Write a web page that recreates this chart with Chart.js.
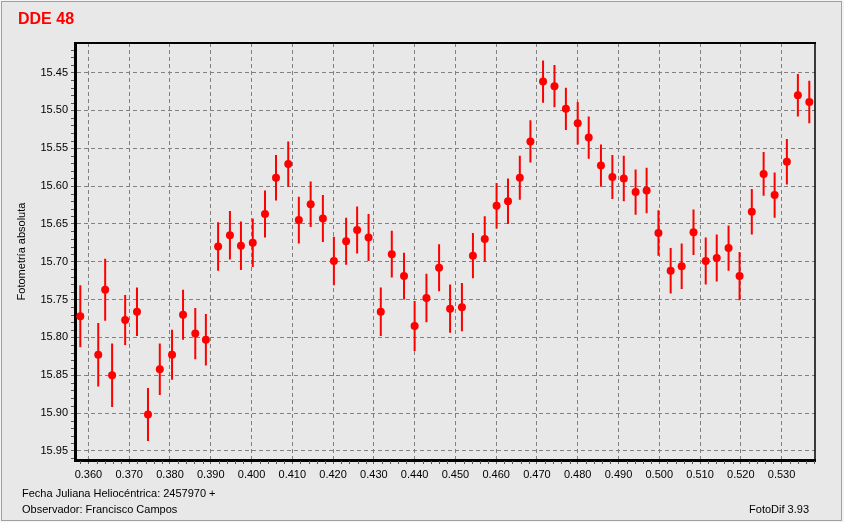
<!DOCTYPE html>
<html>
<head>
<meta charset="utf-8">
<script src="https://cdn.jsdelivr.net/npm/chart.js@4/dist/chart.umd.min.js"></script>
<style>
  html, body { margin: 0; padding: 0; background: #f4f4f4; }
  #frame { position: absolute; left: 1px; top: 1px; width: 839px; height: 518px; border: 1px solid #a0a0a0; background: #e8e8e8; }
  #c { position: absolute; left: 0; top: 0; }
  .txt { position: absolute; font-family: "Liberation Sans", Arial, sans-serif; white-space: nowrap; color: #000; }
  #title { left: 18px; top: 10px; font-size: 16px; line-height: 18px; font-weight: bold; color: #ff0000; }
  #f1 { left: 22px; top: 487px; font-size: 11px; line-height: 13px; }
  #f2 { left: 22px; top: 503px; font-size: 11px; line-height: 13px; }
  #f3 { right: 35px; top: 503px; font-size: 11px; line-height: 13px; }
</style>
</head>
<body>
<div id="frame"></div>
<canvas id="c" width="844" height="522"></canvas>
<div class="txt" id="title">DDE 48</div>
<div class="txt" id="f1">Fecha Juliana Heliocéntrica: 2457970 +</div>
<div class="txt" id="f2">Observador: Francisco Campos</div>
<div class="txt" id="f3">FotoDif 3.93</div>
<script>
// ---- data ----
const jd = [0.3580,0.3624,0.3641,0.3658,0.3690,0.3719,0.3746,0.3775,0.3805,0.3832,
            0.3862,0.3888,0.3918,0.3947,0.3974,0.4003,0.4033,0.4060,0.4090,0.4116,
            0.4145,0.4175,0.4202,0.4232,0.4259,0.4287,0.4317,0.4344,0.4374,0.4400,
            0.4429,0.4460,0.4487,0.4516,0.4543,0.4572,0.4601,0.4629,0.4658,0.4684,
            0.4715,0.4743,0.4771,0.4800,0.4827,0.4857,0.4885,0.4913,0.4942,0.4969,
            0.4998,0.5028,0.5055,0.5084,0.5114,0.5141,0.5170,0.5197,0.5227,0.5256,
            0.5283,0.5313,0.5340,0.5368];
const mag = [15.772,15.823,15.737,15.850,15.777,15.766,15.902,15.842,15.823,15.770,
             15.795,15.803,15.680,15.665,15.679,15.675,15.637,15.589,15.571,15.645,
             15.624,15.643,15.699,15.673,15.658,15.668,15.766,15.690,15.719,15.785,
             15.748,15.708,15.762,15.760,15.692,15.670,15.626,15.620,15.589,15.541,
             15.462,15.468,15.498,15.517,15.536,15.573,15.588,15.590,15.608,15.606,
             15.662,15.712,15.706,15.661,15.699,15.695,15.682,15.719,15.634,15.584,
             15.612,15.568,15.480,15.489];
const err = [0.041,0.042,0.041,0.042,0.033,0.032,0.035,0.034,0.033,0.033,
             0.034,0.034,0.032,0.032,0.032,0.032,0.031,0.030,0.030,0.031,
             0.030,0.031,0.032,0.031,0.031,0.031,0.032,0.031,0.031,0.033,
             0.032,0.031,0.032,0.032,0.030,0.030,0.030,0.030,0.029,0.028,
             0.028,0.028,0.028,0.028,0.028,0.028,0.029,0.030,0.030,0.030,
             0.030,0.030,0.030,0.030,0.031,0.031,0.030,0.032,0.030,0.029,
             0.030,0.030,0.028,0.028];
const xRange = [0.3567, 0.5382];
const yRange = [15.411, 15.962];
const xStep = 0.01, xMinorStep = 0.002;
const yStep = 0.05, yMinorStep = 0.01;
const yTitle = 'Fotometría absoluta';

// ---- build datasets ----
const points = jd.map((x, i) => ({x: x, y: mag[i]}));
const bars = [];
jd.forEach((x, i) => {
  bars.push({x: x, y: mag[i] - err[i]});
  bars.push({x: x, y: mag[i] + err[i]});
  bars.push({x: x, y: NaN});
});

const FONT = '"Liberation Sans", Arial, sans-serif';

const frameLines = {
  id: 'frameLines',
  afterDraw(chart) {
    const {ctx, chartArea: a, scales} = chart;
    ctx.save();
    ctx.strokeStyle = '#000';
    ctx.lineWidth = 2;
    ctx.beginPath(); ctx.moveTo(a.left, a.top); ctx.lineTo(a.right + 1, a.top); ctx.stroke();
    ctx.lineWidth = 1.5;
    ctx.beginPath(); ctx.moveTo(a.right, a.top); ctx.lineTo(a.right, a.bottom); ctx.stroke();
    // minor ticks
    ctx.strokeStyle = '#555';
    ctx.lineWidth = 1;
    const xs = scales.x, ys = scales.y;
    for (let k = Math.ceil(xRange[0] / xMinorStep); k * xMinorStep <= xRange[1]; k++) {
      if (k % 5 === 0) continue;
      const px = Math.round(xs.getPixelForValue(k * xMinorStep)) + 0.5;
      ctx.beginPath(); ctx.moveTo(px, a.bottom + 1); ctx.lineTo(px, a.bottom + 4); ctx.stroke();
    }
    for (let k = Math.ceil(yRange[0] / yMinorStep - 1e-9); k * yMinorStep <= yRange[1] + 1e-9; k++) {
      if (k % 5 === 0) continue;
      const py = Math.round(ys.getPixelForValue(k * yMinorStep)) + 0.5;
      ctx.beginPath(); ctx.moveTo(a.left - 4, py); ctx.lineTo(a.left - 1, py); ctx.stroke();
    }
    ctx.restore();
  }
};

new Chart(document.getElementById('c'), {
  type: 'scatter',
  data: {
    datasets: [
      { label: 'mag', data: points, order: 0, showLine: false,
        pointRadius: 4, pointHoverRadius: 4, pointStyle: 'circle',
        backgroundColor: '#ff0000', borderColor: '#ff0000', borderWidth: 0 },
      { label: 'err', type: 'line', data: bars, order: 1, showLine: true, spanGaps: false,
        pointRadius: 0, borderColor: '#ff0000', borderWidth: 2, fill: false }
    ]
  },
  options: {
    responsive: false,
    animation: false,
    devicePixelRatio: 1,
    layout: { padding: { top: 43, right: 29, left: 0, bottom: 0 } },
    plugins: { legend: { display: false }, tooltip: { enabled: false }, title: { display: false } },
    scales: {
      x: {
        type: 'linear', min: xRange[0], max: xRange[1],
        afterFit(s) { s.height = 62; },
        ticks: { stepSize: xStep, includeBounds: false, color: '#000', padding: 4,
                 font: { family: FONT, size: 11 }, maxRotation: 0,
                 callback: v => Number(v).toFixed(3) },
        grid: { color: '#808080', lineWidth: 1, tickLength: 4, tickColor: '#606060' },
        border: { color: '#000', width: 3, dash: [4, 3] },
        title: { display: false }
      },
      y: {
        type: 'linear', reverse: true, min: yRange[0], max: yRange[1],
        afterFit(s) { s.width = 75; },
        ticks: { stepSize: yStep, includeBounds: false, color: '#000', padding: 3,
                 font: { family: FONT, size: 11 },
                 callback: v => Number(v).toFixed(2) },
        grid: { color: '#808080', lineWidth: 1, tickLength: 4, tickColor: '#606060' },
        border: { color: '#000', width: 3, dash: [4, 3] },
        title: { display: true, text: yTitle, color: '#000',
                 font: { family: FONT, size: 11 }, padding: { top: 15, bottom: 0 } }
      }
    }
  },
  plugins: [frameLines]
});
</script>
</body>
</html>
